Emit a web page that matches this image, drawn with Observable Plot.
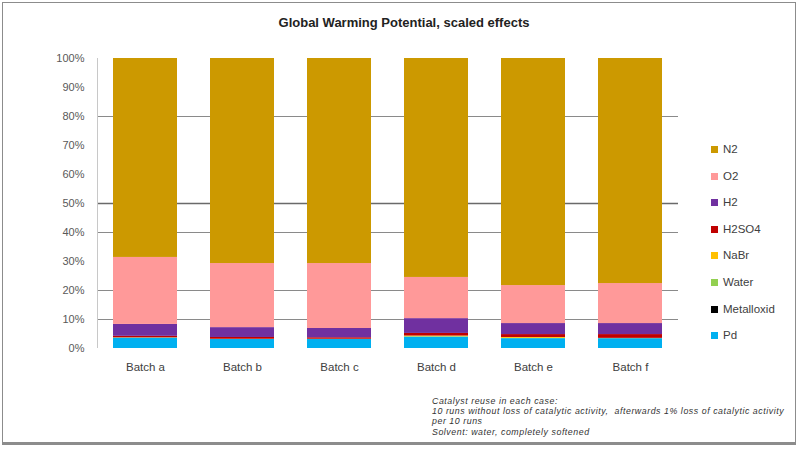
<!DOCTYPE html>
<html>
<head>
<meta charset="utf-8">
<script src="https://cdn.jsdelivr.net/npm/d3@7"></script>
<script src="https://cdn.jsdelivr.net/npm/@observablehq/plot@0.6"></script>
<style>
  html, body { margin: 0; padding: 0; background: #fff; }
  #wrap { position: relative; width: 801px; height: 451px; overflow: hidden; font-family: "Liberation Sans", Arial, sans-serif; }
  #frame { position: absolute; left: 2px; top: 2px; width: 794px; height: 443px; border: 1px solid #8c8c8c; border-bottom: 3px solid #8c8c8c; box-sizing: border-box; pointer-events: none; }
  #title { position: absolute; left: 0; width: 808px; top: 15px; text-align: center; font-weight: bold; font-size: 13px; color: #222; }
  #legend { position: absolute; left: 711px; top: 143px; font-size: 11.5px; color: #404040; }
  .li { height: 26.6px; display: flex; align-items: flex-start; }
  .sw { width: 7px; height: 7px; margin-right: 5px; margin-top: 3px; }
  #note { position: absolute; left: 432px; top: 396px; font-size: 8.8px; letter-spacing: 0.55px; font-style: italic; color: #333; line-height: 10.2px; white-space: pre; }
  svg { position: absolute; left: 0; top: 0; }
</style>
</head>
<body>
<div id="wrap">
  <div id="chart"></div>
  <div id="title">Global Warming Potential, scaled effects</div>
  <div id="legend"></div>
  <div id="note"></div>
  <div id="frame"></div>
</div>
<script>
const batches = ["Batch a", "Batch b", "Batch c", "Batch d", "Batch e", "Batch f"];
const series = ["Pd", "Metalloxid", "Water", "NaBr", "H2SO4", "H2", "O2", "N2"];
const colors = ["#00B0F0", "#000000", "#92D050", "#FFC000", "#C00000", "#7030A0", "#FF9999", "#CC9900"];
// percent shares per batch
const Pd         = [3.6, 3.1, 3.1, 3.9, 3.4, 3.4];
const Metalloxid = [0.0, 0.0, 0.0, 0.0, 0.0, 0.0];
const Water      = [0.0, 0.0, 0.0, 0.2, 0.1, 0.0];
const NaBr       = [0.1, 0.1, 0.1, 0.2, 0.3, 0.1];
const H2SO4      = [0.5, 0.6, 0.5, 0.9, 1.0, 1.3];
const H2         = [4.1, 3.4, 3.2, 5.1, 3.8, 3.8];
const O2         = [23.1, 22.1, 22.4, 14.2, 13.1, 13.8];
const N2         = [68.6, 70.7, 70.7, 75.5, 78.3, 77.6];
const yTicks = [0, 10, 20, 30, 40, 50, 60, 70, 80, 90, 100];
const gridLight = [10, 20, 40, 80];
const gridDark = [50];
const noteLines = [
  "Catalyst reuse in each case:",
  "10 runs without loss of catalytic activity,  afterwards 1% loss of catalytic activity",
  "per 10 runs",
  "Solvent: water, completely softened"
];

const valuesBySeries = {Pd, Metalloxid, Water, NaBr, H2SO4, H2, O2, N2};
const data = [];
series.forEach(s => batches.forEach((b, i) => data.push({batch: b, series: s, value: valuesBySeries[s][i]})));

const chart = Plot.plot({
  width: 801,
  height: 451,
  marginLeft: 97,
  marginRight: 123,
  marginTop: 58,
  marginBottom: 103,
  style: {fontFamily: "Liberation Sans, Arial, sans-serif", fontSize: "11px", color: "#595959", background: "transparent"},
  x: {domain: batches, paddingInner: 0.34, paddingOuter: 0.15, label: null},
  y: {domain: [0, 100], label: null},
  color: {domain: series, range: colors},
  marks: [
    Plot.ruleY(gridLight, {stroke: "#8a8a8a", strokeWidth: 1}),
    Plot.ruleY(gridDark, {stroke: "#6a6a6a", strokeWidth: 1.5}),
    Plot.barY(data, Plot.stackY({x: "batch", y: "value", fill: "series", order: series})),
    Plot.axisY({ticks: yTicks, tickFormat: d => d + "%", tickSize: 0, tickPadding: 13, fill: "#595959", fontSize: 11}),
    Plot.axisX({tickSize: 0, tickPadding: 14, fill: "#404040", fontSize: 11.5})
  ]
});
document.getElementById("chart").appendChild(chart);

// vertical axis line at plot left
const svg = d3.select(chart);
svg.append("line").attr("x1", 97.5).attr("x2", 97.5).attr("y1", 58).attr("y2", 348).attr("stroke", "#c8c8c8");

const legend = document.getElementById("legend");
series.slice().reverse().forEach(s => {
  const c = colors[series.indexOf(s)];
  const d = document.createElement("div");
  d.className = "li";
  d.innerHTML = `<span class="sw" style="background:${c}"></span><span>${s}</span>`;
  legend.appendChild(d);
});
document.getElementById("note").innerHTML = noteLines.map(t => `<div>${t}</div>`).join("");
</script>
</body>
</html>
